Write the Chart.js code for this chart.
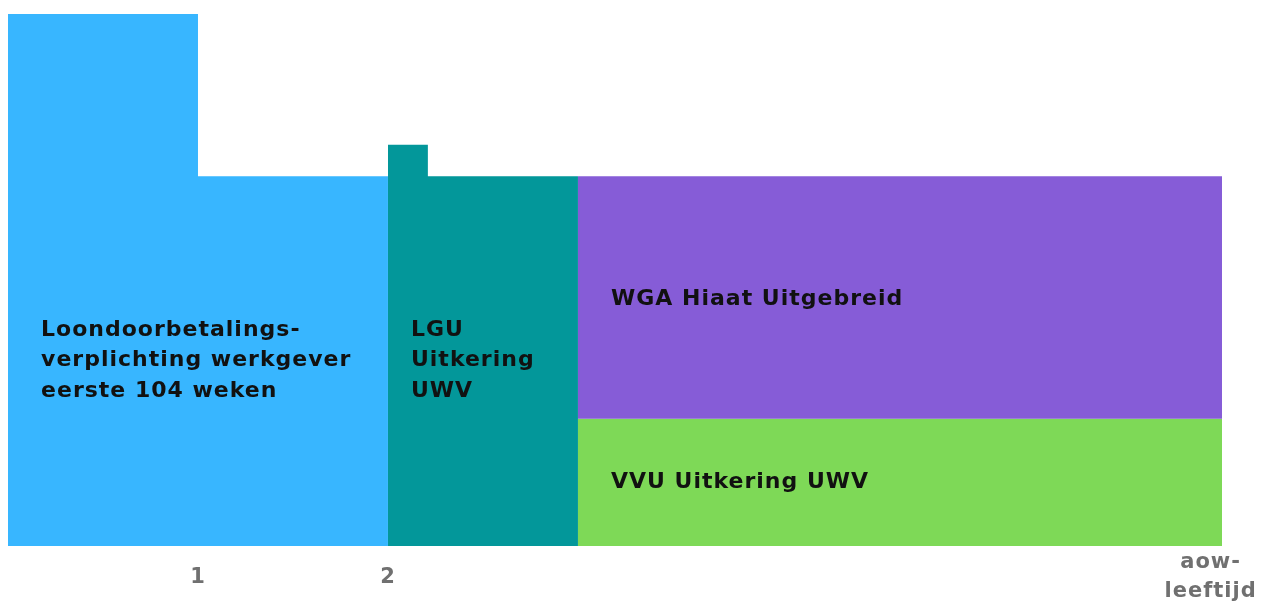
<!DOCTYPE html>
<html>
<head>
<meta charset="utf-8">
<script src="https://cdn.jsdelivr.net/npm/chart.js@4"></script>
<style>
  html, body { margin: 0; padding: 0; background: #ffffff; }
  #wrap { width: 1266px; height: 601px; position: relative; }
</style>
</head>
<body>
<div id="wrap"><canvas id="c" width="1266" height="601"></canvas></div>
<script>
// --- data (years on x, % of income on y) ---
const xMax = 6.39;
const tickValues = [1, 2, 6.33];
const tickLabels = ['1', '2', ['aow-', 'leeftijd']];

const blueX = [0, 1, 2];
const blueY = [100, 69.5, 69.5];
const tealX = [2, 2.21, 3];
const tealY = [75.4, 69.5, 69.5];
const purpleX = [3, 6.39];
const purpleY = [69.5, 69.5];
const greenX = [3, 6.39];
const greenY = [23.9, 23.9];

const regionLabels = [
  ['Loondoorbetalings-', 'verplichting werkgever', 'eerste 104 weken'],
  ['LGU', 'Uitkering', 'UWV'],
  ['WGA Hiaat Uitgebreid'],
  ['VVU Uitkering UWV']
];
const labelAnchorX = [0.174, 2.121, 3.174, 3.174];
const labelAnchorY = [40.6, 40.6, 46.4, 12.0];

const toPts = (xs, ys) => xs.map((x, i) => ({ x: x, y: ys[i] }));

const spacingPlugin = {
  id: 'tickSpacing',
  beforeDraw(chart) { chart.ctx.letterSpacing = '1px'; },
  afterDraw(chart) { chart.ctx.letterSpacing = '0px'; }
};

const labelPlugin = {
  id: 'regionLabels',
  afterDatasetsDraw(chart) {
    const { ctx, scales } = chart;
    ctx.save();
    ctx.fillStyle = '#111111';
    ctx.font = 'bold 22px "DejaVu Sans", sans-serif';
    ctx.letterSpacing = '1px';
    ctx.textAlign = 'left';
    ctx.textBaseline = 'middle';
    regionLabels.forEach((lines, i) => {
      const px = scales.x.getPixelForValue(labelAnchorX[i]);
      const py = scales.y.getPixelForValue(labelAnchorY[i]);
      lines.forEach((t, j) => ctx.fillText(t, px, py + j * 30.5));
    });
    ctx.restore();
  }
};

const base = { pointRadius: 0, pointHoverRadius: 0, borderWidth: 0, borderColor: 'rgba(0,0,0,0)', stepped: true, tension: 0 };

new Chart(document.getElementById('c'), {
  type: 'line',
  data: {
    datasets: [
      Object.assign({ label: 'Loondoorbetaling', data: toPts(blueX, blueY), backgroundColor: '#38B6FF', fill: 'origin' }, base),
      Object.assign({ label: 'LGU', data: toPts(tealX, tealY), backgroundColor: '#03979A', fill: 'origin' }, base),
      Object.assign({ label: 'WGA', data: toPts(purpleX, purpleY), backgroundColor: '#865CD7', fill: '+1' }, base),
      Object.assign({ label: 'VVU', data: toPts(greenX, greenY), backgroundColor: '#7ED957', fill: 'origin' }, base)
    ]
  },
  options: {
    responsive: false,
    animation: false,
    events: [],
    layout: { padding: { left: 8, top: 14, right: 44, bottom: 0 } },
    plugins: { legend: { display: false }, tooltip: { enabled: false } },
    scales: {
      y: { type: 'linear', min: 0, max: 100, display: false },
      x: {
        type: 'linear', min: 0, max: xMax,
        grid: { display: false, drawTicks: false },
        border: { display: false },
        afterBuildTicks: (s) => { s.ticks = tickValues.map(v => ({ value: v })); },
        afterFit: (s) => { s.height = 55; s.paddingLeft = 0; s.paddingRight = 0; },
        ticks: {
          autoSkip: false, maxRotation: 0, minRotation: 0,
          padding: 17,
          crossAlign: 'center',
          color: '#707070',
          font: { family: '"DejaVu Sans", sans-serif', size: 21, weight: 'bold', lineHeight: 1.35 },
          callback: (v, i) => tickLabels[i]
        }
      }
    }
  },
  plugins: [spacingPlugin, labelPlugin]
});
</script>
</body>
</html>
